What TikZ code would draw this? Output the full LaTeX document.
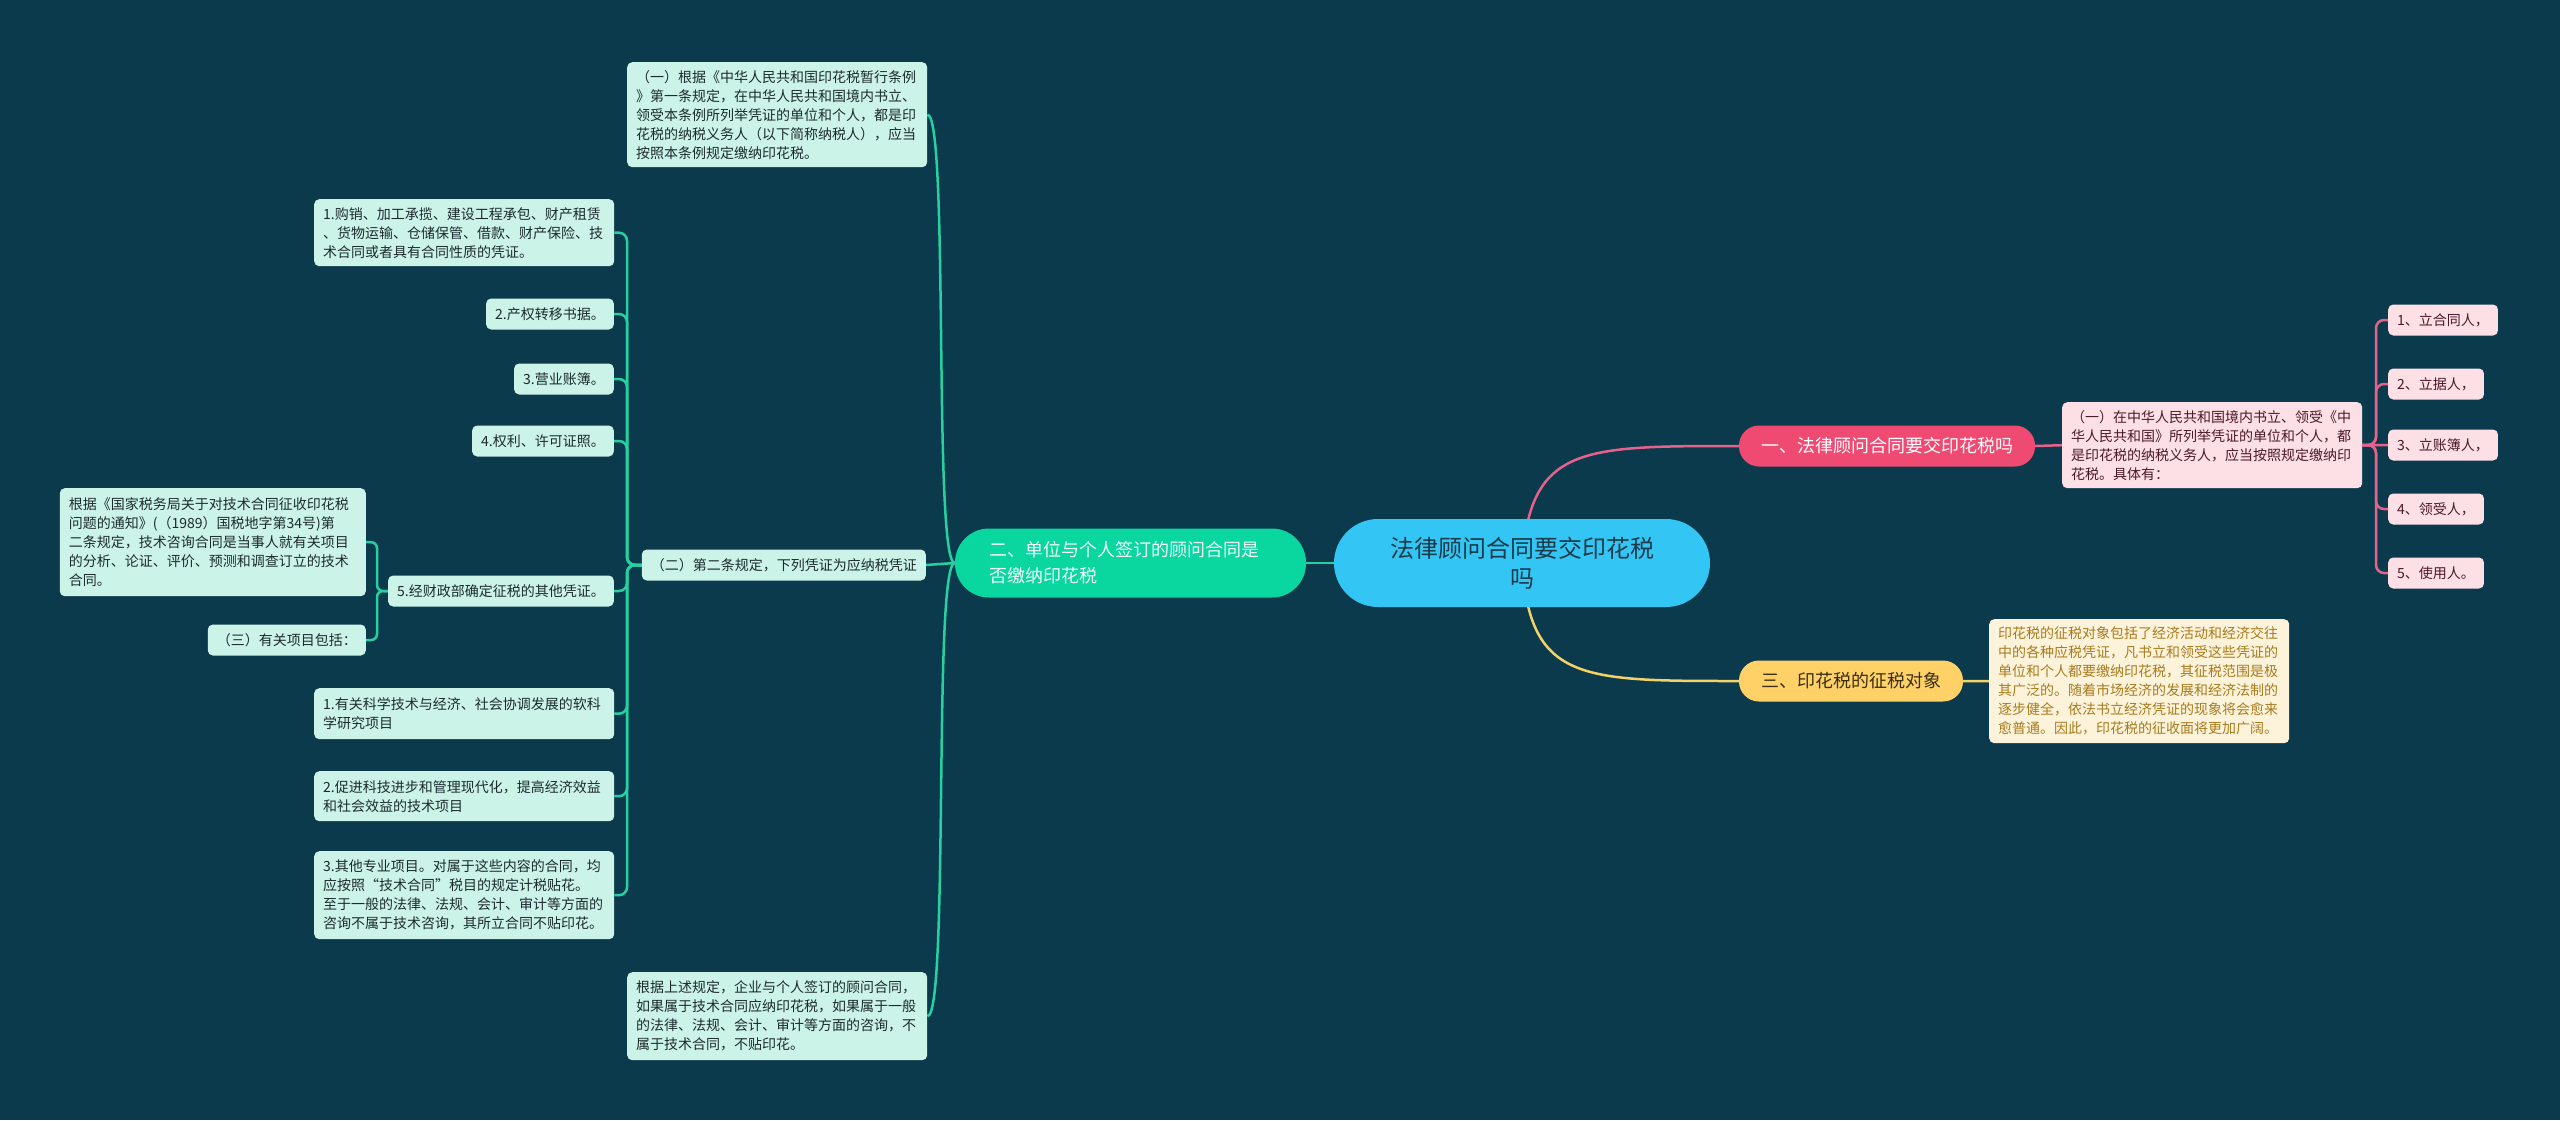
\documentclass[tikz,border=0pt]{standalone}
\usepackage{fontspec}
\newfontfamily\cjk{Noto Sans CJK SC}
\pgfdeclarelayer{bglayer}
\pgfdeclarelayer{edgelayer}
\pgfsetlayers{bglayer,edgelayer,main}
\definecolor{bgc}{HTML}{0B3A4C}
\definecolor{lboxc}{HTML}{CCF3E8}
\definecolor{ltext}{HTML}{1C2B2E}
\definecolor{pboxc}{HTML}{FDDFE6}
\definecolor{ptext}{HTML}{4A1A28}
\definecolor{yboxc}{HTML}{FCF3DA}
\definecolor{ytext}{HTML}{A87B1E}
\definecolor{ctrc}{HTML}{33C5F3}
\definecolor{ctrtext}{HTML}{1B3A4A}
\definecolor{greenc}{HTML}{0AD6A0}
\definecolor{grntext}{HTML}{F2FBF8}
\definecolor{pinkc}{HTML}{EF4A72}
\definecolor{yelc}{HTML}{FFD166}
\definecolor{yeltext}{HTML}{3A2E10}
\definecolor{tline}{HTML}{27D0A2}
\definecolor{pline}{HTML}{E4628B}
\definecolor{yline}{HTML}{F3D26A}
\tikzset{
  lbox/.style={fill=lboxc, text=ltext, rounded corners=5pt, font=\cjk\fontsize{14}{19}\selectfont, inner xsep=9pt, inner ysep=6pt, align=left, minimum height=31pt},
  pbox/.style={lbox, fill=pboxc, text=ptext},
  ybox/.style={lbox, fill=yboxc, text=ytext},
  wide/.style={text width=282pt},
  tedge/.style={draw=tline, line width=2.5pt},
  pedge/.style={draw=pline, line width=2.5pt},
  yedge/.style={draw=yline, line width=2.5pt},
}
\begin{document}
\begin{tikzpicture}[x=1pt,y=-1pt]
\begin{pgfonlayer}{bglayer}
\fill[bgc] (0,0) rectangle (2560,1120);
\end{pgfonlayer}
\useasboundingbox (0,0) rectangle (2560,1120);

% center
\node[fill=ctrc, text=ctrtext, rounded corners=44pt, minimum width=376pt, minimum height=88pt, align=center, font=\cjk\fontsize{24}{30}\selectfont] (ctr) at (1522,563) {法律顾问合同要交印花税\\吗};

% main branches
\node[fill=greenc, text=grntext, rounded corners=34pt, minimum height=69pt, inner xsep=34pt, text width=283pt, align=left, font=\cjk\fontsize{18}{26}\selectfont] (grn) at (1130.5,563) {二、单位与个人签订的顾问合同是\\否缴纳印花税};
\node[fill=pinkc, text=white, rounded corners=20pt, minimum width=296pt, minimum height=41pt, font=\cjk\fontsize{18}{22}\selectfont] (one) at (1887,446) {一、法律顾问合同要交印花税吗};
\node[fill=yelc, text=yeltext, rounded corners=20pt, minimum width=224pt, minimum height=41pt, font=\cjk\fontsize{18}{22}\selectfont] (three) at (1851,681) {三、印花税的征税对象};

% right pink
\node[pbox, wide, anchor=north west, minimum height=86pt] (pdet) at (2062,402) {（一）在中华人民共和国境内书立、领受《中\\华人民共和国》所列举凭证的单位和个人，都\\是印花税的纳税义务人，应当按照规定缴纳印\\花税。具体有：};
\node[pbox, anchor=west] (pi1) at (2388,320) {1、立合同人，};
\node[pbox, anchor=west] (pi2) at (2388,384) {2、立据人，};
\node[pbox, anchor=west] (pi3) at (2388,445) {3、立账簿人，};
\node[pbox, anchor=west] (pi4) at (2388,509) {4、领受人，};
\node[pbox, anchor=west] (pi5) at (2388,573) {5、使用人。};

% right yellow
\node[ybox, wide, anchor=north west, minimum height=124pt] (ydet) at (1989,619) {印花税的征税对象包括了经济活动和经济交往\\中的各种应税凭证，凡书立和领受这些凭证的\\单位和个人都要缴纳印花税，其征税范围是极\\其广泛的。随着市场经济的发展和经济法制的\\逐步健全，依法书立经济凭证的现象将会愈来\\愈普通。因此，印花税的征收面将更加广阔。};

% left
\node[lbox, wide, anchor=north west, minimum height=105pt] (ya) at (627,62) {（一）根据《中华人民共和国印花税暂行条例\\》第一条规定，在中华人民共和国境内书立、\\领受本条例所列举凭证的单位和个人，都是印\\花税的纳税义务人（以下简称纳税人），应当\\按照本条例规定缴纳印花税。};
\node[lbox, anchor=east] (er) at (926,565) {（二）第二条规定，下列凭证为应纳税凭证};
\node[lbox, wide, anchor=north west, minimum height=88pt] (last) at (627,972) {根据上述规定，企业与个人签订的顾问合同，\\如果属于技术合同应纳印花税，如果属于一般\\的法律、法规、会计、审计等方面的咨询，不\\属于技术合同，不贴印花。};

\node[lbox, wide, anchor=north west, minimum height=67pt] (b1) at (314,199) {1.购销、加工承揽、建设工程承包、财产租赁\\、货物运输、仓储保管、借款、财产保险、技\\术合同或者具有合同性质的凭证。};
\node[lbox, anchor=east] (b2) at (614,314) {2.产权转移书据。};
\node[lbox, anchor=east] (b3) at (614,379) {3.营业账簿。};
\node[lbox, anchor=east] (b4) at (614,441) {4.权利、许可证照。};
\node[lbox, anchor=east] (b5) at (614,591) {5.经财政部确定征税的其他凭证。};
\node[lbox, text width=288pt, anchor=north east, minimum height=108pt] (gj) at (366,488) {根据《国家税务局关于对技术合同征收印花税\\问题的通知》(（1989）国税地字第34号)第\\二条规定，技术咨询合同是当事人就有关项目\\的分析、论证、评价、预测和调查订立的技术\\合同。};
\node[lbox, anchor=east] (s3) at (366,640) {（三）有关项目包括：};
\node[lbox, wide, anchor=north west, minimum height=51pt] (c1) at (314,688) {1.有关科学技术与经济、社会协调发展的软科\\学研究项目};
\node[lbox, wide, anchor=north west, minimum height=50pt] (c2) at (314,771) {2.促进科技进步和管理现代化，提高经济效益\\和社会效益的技术项目};
\node[lbox, wide, anchor=north west, minimum height=88pt] (c3) at (314,851) {3.其他专业项目。对属于这些内容的合同，均\\应按照“技术合同”税目的规定计税贴花。\\至于一般的法律、法规、会计、审计等方面的\\咨询不属于技术咨询，其所立合同不贴印花。};

\begin{pgfonlayer}{edgelayer}
% center to branches
\draw[tedge] (ctr.center) -- (grn.east);
\draw[pedge] (ctr.center) .. controls (1530,446) and (1580,446) .. (one.west);
\draw[yedge] (ctr.center) .. controls (1530,681) and (1580,681) .. (three.west);
% pink
\draw[pedge] (one.east) -- (pdet.west);
\coordinate (pj) at (2376,445);
\draw[pedge, rounded corners=8pt] (pdet.east) -- (pj) |- (pi1.west);
\draw[pedge, rounded corners=8pt] (pdet.east) -- (pj) |- (pi2.west);
\draw[pedge] (pdet.east) -- (pi3.west);
\draw[pedge, rounded corners=8pt] (pdet.east) -- (pj) |- (pi4.west);
\draw[pedge, rounded corners=8pt] (pdet.east) -- (pj) |- (pi5.west);
% yellow
\draw[yedge] (three.east) -- (ydet.west);
% green trunk
\draw[tedge] (grn.west) .. controls +(-22,0) and +(22,0) .. (ya.east);
\draw[tedge] (grn.west) -- (er.east);
\draw[tedge] (grn.west) .. controls +(-22,0) and +(22,0) .. (last.east);
% left tree
\coordinate (tj) at (627,565);
\foreach \c in {b1,b2,b3,b4,b5,c1,c2,c3}{
  \draw[tedge, rounded corners=8pt] (er.west) -- (tj) |- (\c.east);
}
\coordinate (fj) at (377,591);
\draw[tedge, rounded corners=6pt] (b5.west) -- (fj) |- (gj.east);
\draw[tedge, rounded corners=6pt] (b5.west) -- (fj) |- (s3.east);
\end{pgfonlayer}
\end{tikzpicture}
\end{document}
